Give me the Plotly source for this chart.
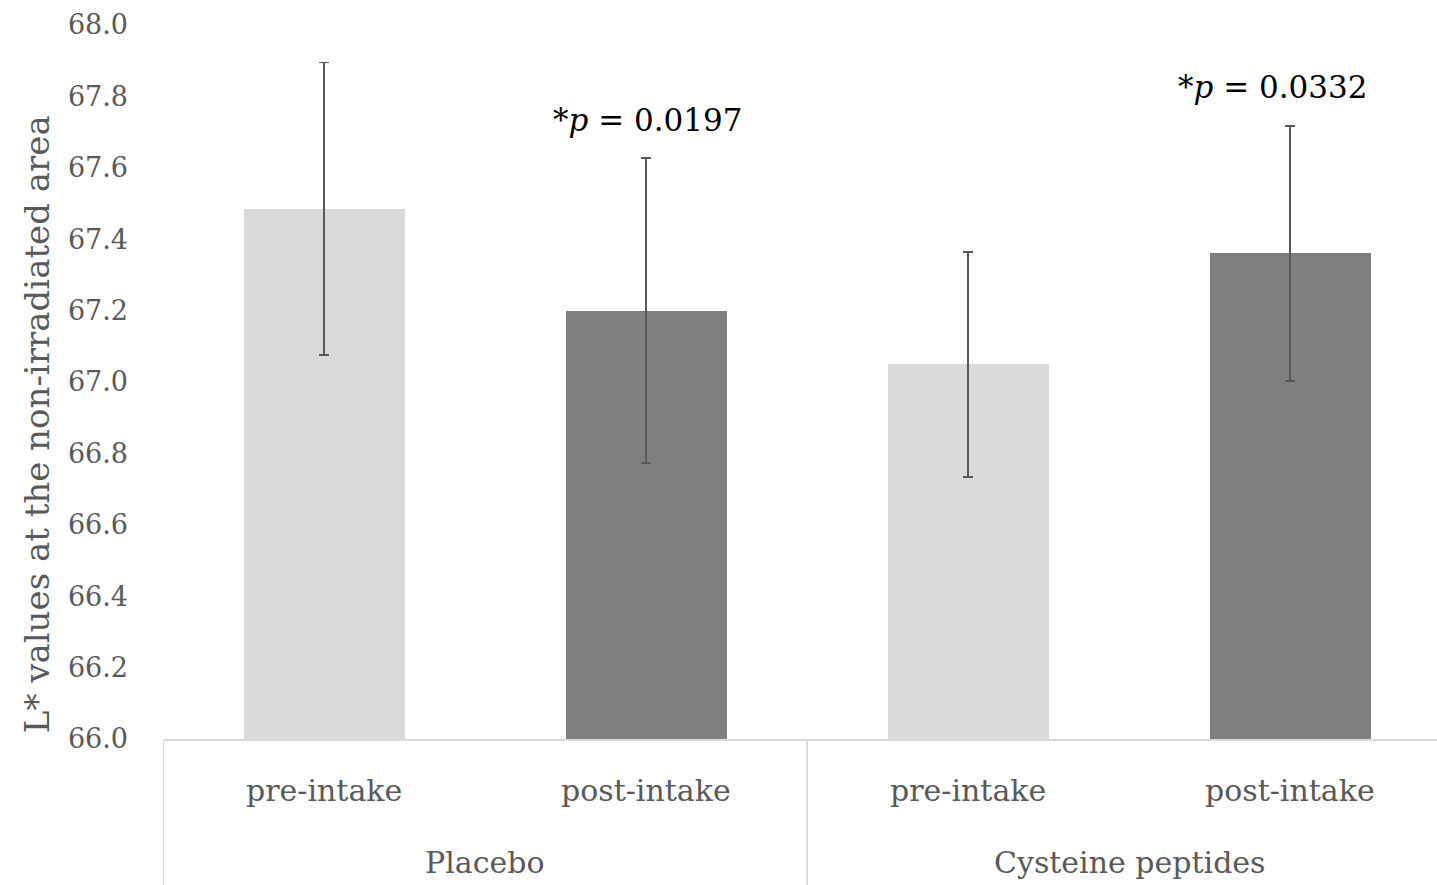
import plotly.graph_objects as go

groups = ["Placebo", "Placebo", "Cysteine peptides", "Cysteine peptides"]
timepoints = ["pre-intake", "post-intake", "pre-intake", "post-intake"]
means = [67.485, 67.20, 67.05, 67.36]
errors = [0.41, 0.427, 0.315, 0.357]
colors = ["#d9d9d9", "#7f7f7f", "#d9d9d9", "#7f7f7f"]
y_ticks = [66.0, 66.2, 66.4, 66.6, 66.8, 67.0, 67.2, 67.4, 67.6, 67.8, 68.0]
p_labels = ["*<i>p</i> = 0.0197", "*<i>p</i> = 0.0332"]
p_pos = [1, 3]
p_y = [67.734, 67.826]
group_names = ["Placebo", "Cysteine peptides"]
group_centers = [0.5, 2.5]

FONT = "DejaVu Serif"
GRAY = "#595959"

x = list(range(len(means)))
fig = go.Figure()
fig.add_trace(go.Bar(
    x=x, y=means, width=0.5, marker=dict(color=colors, line=dict(width=0)),
    error_y=dict(type="data", array=errors, visible=True, color="#595959",
                 thickness=1.8, width=5),
    showlegend=False,
))

W, H = 1437, 885
ml, mt, mb = 163, 25, 146
slot = 322
xmax = -0.5 + (W - ml) / slot

fig.update_layout(
    width=W, height=H,
    margin=dict(l=ml, r=0, t=mt, b=mb),
    plot_bgcolor="white", paper_bgcolor="white",
    bargap=0,
    xaxis=dict(range=[-0.5, xmax], showticklabels=False, showgrid=False,
               zeroline=False, showline=True, linecolor="#d9d9d9", linewidth=2,
               ticks=""),
    yaxis=dict(range=[66.0, 68.0], tickvals=y_ticks,
               ticktext=[f"{v:.1f}" for v in y_ticks],
               showgrid=False, zeroline=False, showline=False,
               ticklabelstandoff=34,
               tickfont=dict(family=FONT, size=27, color=GRAY)),
)

annotations = []
for xi, t in zip(x, timepoints):
    annotations.append(dict(x=xi, y=0, xref="x", yref="paper", text=t,
                            showarrow=False, yanchor="middle", yshift=-51,
                            font=dict(family=FONT, size=30, color=GRAY)))
for gc, g in zip(group_centers, group_names):
    annotations.append(dict(x=gc, y=0, xref="x", yref="paper", text=g,
                            showarrow=False, yanchor="middle", yshift=-123,
                            font=dict(family=FONT, size=30, color=GRAY)))
for px, py, pt, xs in zip(p_pos, p_y, p_labels, [2, -17]):
    annotations.append(dict(x=px, y=py, xref="x", yref="y", text=pt,
                            showarrow=False, xshift=xs,
                            font=dict(family=FONT, size=31, color="black")))
annotations.append(dict(x=0, y=0.441, xref="paper", yref="paper",
                        text="L* values at the non-irradiated area",
                        showarrow=False, textangle=-90, xshift=-126,
                        xanchor="center", yanchor="middle",
                        font=dict(family=FONT, size=34, color=GRAY)))
fig.update_layout(annotations=annotations)

shapes = []
for xs in [-0.5, 1.5, 3.5]:
    shapes.append(dict(type="line", xref="x", yref="paper", x0=xs, x1=xs,
                       y0=0, y1=-mb / (H - mt - mb),
                       line=dict(color="#d9d9d9", width=2)))
fig.update_layout(shapes=shapes)

fig.write_html("out.html")
